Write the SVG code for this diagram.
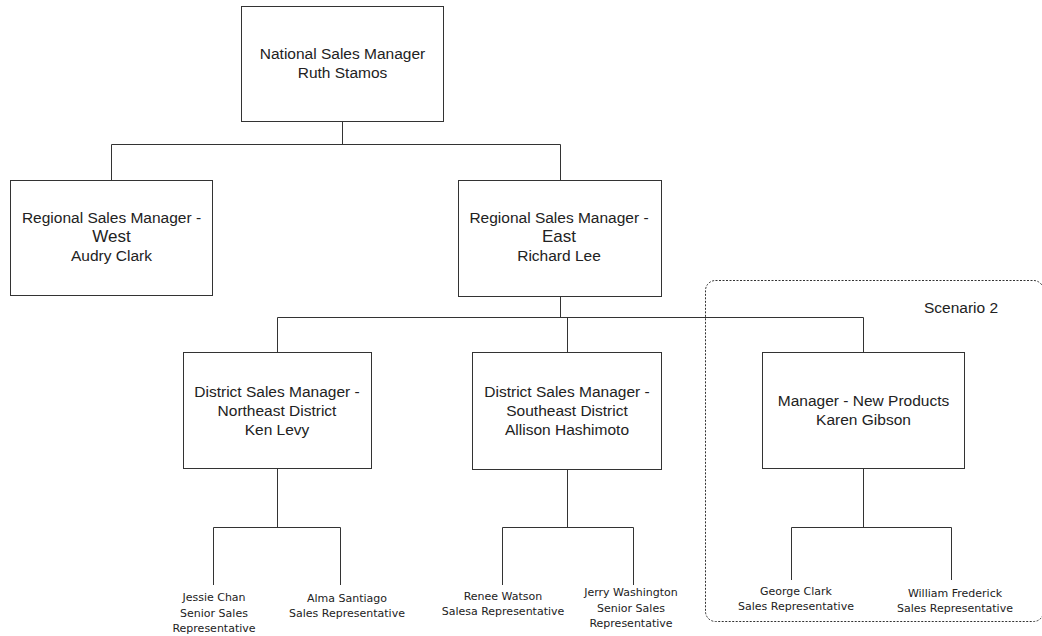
<svg xmlns="http://www.w3.org/2000/svg" width="1042" height="636" viewBox="0 0 1042 636">
<style>
.box{fill:#fff;stroke:#333;stroke-width:1}
.ln{fill:none;stroke:#333;stroke-width:1}
.t{font-family:"Liberation Sans",Arial,sans-serif;font-size:15.5px;fill:#222;text-anchor:middle}
.big{font-size:17px}
.s{font-family:"DejaVu Sans",Verdana,sans-serif;font-size:11px;fill:#222;text-anchor:middle}
.grp{fill:none;stroke:#333;stroke-width:1;stroke-dasharray:2 1.5}
</style>
<rect width="1042" height="636" fill="#fff"/>
<g id="scenario2">
<rect class="grp" x="705.5" y="280.5" width="338" height="341" rx="10" ry="10"/>
<text class="t" x="961" y="313">Scenario 2</text>
</g>
<g id="connectors">
<path class="ln" d="M342.5 122V144.5M111.5 144.5H560.5M111.5 144.5V180M560.5 144.5V180"/>
<path class="ln" d="M560.5 297V317.5M277.5 317.5H863.5M277.5 317.5V352M567.5 317.5V352M863.5 317.5V352"/>
<path class="ln" d="M277.5 469V527.5M213.5 527.5H340.5M213.5 527.5V585M340.5 527.5V585"/>
<path class="ln" d="M567.5 470V527.5M502.5 527.5H633.5M502.5 527.5V585M633.5 527.5V585"/>
<path class="ln" d="M863.5 469V527.5M791.5 527.5H951.5M791.5 527.5V580M951.5 527.5V580"/>
</g>
<g id="national">
<rect class="box" x="241.5" y="6.5" width="202" height="115"/>
<text class="t" x="342.5" y="59">National Sales Manager</text>
<text class="t" x="342.5" y="78">Ruth Stamos</text>
</g>
<g id="west">
<rect class="box" x="10.5" y="180.5" width="202" height="115"/>
<text class="t" x="111.5" y="223">Regional Sales Manager -</text>
<text class="t big" x="111.5" y="242">West</text>
<text class="t" x="111.5" y="261">Audry Clark</text>
</g>
<g id="east">
<rect class="box" x="458.5" y="180.5" width="203" height="116"/>
<text class="t" x="559" y="223">Regional Sales Manager -</text>
<text class="t big" x="559" y="242">East</text>
<text class="t" x="559" y="261">Richard Lee</text>
</g>
<g id="northeast">
<rect class="box" x="183.5" y="352.5" width="188" height="116"/>
<text class="t" x="277" y="397">District Sales Manager -</text>
<text class="t" x="277" y="416">Northeast District</text>
<text class="t" x="277" y="435">Ken Levy</text>
</g>
<g id="southeast">
<rect class="box" x="472.5" y="352.5" width="189" height="117"/>
<text class="t" x="567" y="397">District Sales Manager -</text>
<text class="t" x="567" y="416">Southeast District</text>
<text class="t" x="567" y="435">Allison Hashimoto</text>
</g>
<g id="newproducts">
<rect class="box" x="762.5" y="352.5" width="202" height="116"/>
<text class="t" x="863.5" y="406">Manager - New Products</text>
<text class="t" x="863.5" y="425">Karen Gibson</text>
</g>
<g id="jessie">
<text class="s" x="214" y="601">Jessie Chan</text>
<text class="s" x="214" y="617">Senior Sales</text>
<text class="s" x="214" y="632">Representative</text>
</g>
<g id="alma">
<text class="s" x="347" y="602">Alma Santiago</text>
<text class="s" x="347" y="617">Sales Representative</text>
</g>
<g id="renee">
<text class="s" x="503" y="600">Renee Watson</text>
<text class="s" x="503" y="615">Salesa Representative</text>
</g>
<g id="jerry">
<text class="s" x="631" y="596">Jerry Washington</text>
<text class="s" x="631" y="612">Senior Sales</text>
<text class="s" x="631" y="627">Representative</text>
</g>
<g id="george">
<text class="s" x="796" y="595">George Clark</text>
<text class="s" x="796" y="610">Sales Representative</text>
</g>
<g id="william">
<text class="s" x="955" y="597">William Frederick</text>
<text class="s" x="955" y="612">Sales Representative</text>
</g>
</svg>
